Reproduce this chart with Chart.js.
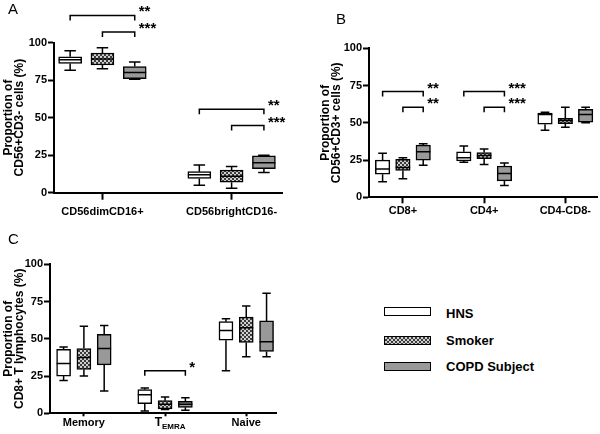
<!DOCTYPE html>
<html>
<head>
<meta charset="utf-8">
<script src="https://cdn.jsdelivr.net/npm/chart.js@4/dist/chart.umd.min.js"></script>
<style>
body { margin: 0; background: #fff; width: 600px; height: 434px; position: relative; overflow: hidden; font-family: "Liberation Sans", Arial, sans-serif; }
canvas { position: absolute; }
.panel { position: absolute; font-size: 15px; line-height: 15px; color: #000; }
.sw { position: absolute; left: 384px; width: 47px; height: 9px; box-sizing: border-box; border: 1.5px solid #000; }
.lg { position: absolute; left: 446px; font-size: 13px; line-height: 13px; font-weight: bold; color: #000; }
</style>
</head>
<body>
<canvas id="chartA" width="300" height="218" style="left:0;top:0"></canvas>
<canvas id="chartB" width="300" height="218" style="left:300px;top:0"></canvas>
<canvas id="chartC" width="300" height="216" style="left:0;top:218px"></canvas>
<div class="panel" style="left:8px;top:1px">A</div>
<div class="panel" style="left:336px;top:11px">B</div>
<div class="panel" style="left:8px;top:231px">C</div>

<div class="sw" id="sw0" style="top:307px;background:#fff"></div>
<div class="sw" id="sw1" style="top:336px"></div>
<div class="sw" id="sw2" style="top:362px;background:#999"></div>
<div class="lg" style="top:307px">HNS</div>
<div class="lg" style="top:334px">Smoker</div>
<div class="lg" style="top:360px">COPD Subject</div>

<script>
Chart.defaults.font.family = '"Liberation Sans", Arial, sans-serif';
Chart.defaults.color = '#000';

const series = ['HNS', 'Smoker', 'COPD Subject'];

// each box is [min, q1, median, q3, max]
// A: CD56+CD3- cells
const catsA = ['CD56dimCD16+', 'CD56brightCD16-'];
const hnsA = [[81.5, 86, 88.5, 90.5, 94.5], [5, 9.5, 12, 14, 18.5]];
const smokerA = [[82.5, 85, 89, 93, 96.5], [3, 7, 11, 15, 17.5]];
const copdA = [[75.5, 76, 80, 84, 87], [13.5, 16, 20, 24.5, 25]];
// significance: [group, from series, to series, bracket height, label]
const sigA = [[0, 0, 2, 118, '**'], [0, 1, 2, 107, '***'], [1, 0, 2, 55.5, '**'], [1, 1, 2, 44.7, '***']];

// B: CD56+CD3+ cells
const catsB = ['CD8+', 'CD4+', 'CD4-CD8-'];
const hnsB = [[10.5, 15.5, 19, 25, 29.5], [23.5, 24.5, 26.5, 30.5, 34.5], [45, 49, 55.5, 56.5, 57]];
const smokerB = [[12.5, 18, 20, 25.5, 26.5], [22, 26, 28, 30, 32.5], [47, 49.5, 51.5, 53, 60.5]];
const copdB = [[21.5, 25, 30.5, 35, 36], [8, 11, 16, 21, 23], [50, 50.5, 55.5, 59, 60.5]];
const sigB = [[0, 0, 2, 71, '**'], [0, 1, 2, 60.5, '**'], [1, 0, 2, 71, '***'], [1, 1, 2, 60.5, '***']];

// C: CD8+ T lymphocytes
const catsC = ['Memory', 'TEMRA', 'Naive'];
const hnsC = [[22, 25, 33.5, 43, 44.5], [1.5, 6.5, 12.5, 16, 17], [28.5, 49, 55.5, 61.5, 63.5]];
const smokerC = [[25, 29.5, 37.5, 43.5, 58.5], [2.5, 3, 6, 8.5, 11], [38, 47.5, 57.5, 64.5, 72]];
const copdC = [[15, 32.5, 43.5, 53, 59], [2, 4, 6, 8, 10.5], [38, 41.5, 48, 62, 80.5]];
const sigC = [[1, 0, 2, 28.6, '*']];

// dotted fill for the smoker boxes
const tile = document.createElement('canvas');
tile.width = 4; tile.height = 4;
const tg = tile.getContext('2d');
tg.fillStyle = '#3c3c3c'; tg.fillRect(0, 0, 4, 4);
tg.fillStyle = '#cfcfcf'; tg.fillRect(0, 0, 2, 2); tg.fillRect(2, 2, 2, 2);
const dots = document.createElement('canvas').getContext('2d').createPattern(tile, 'repeat');
document.getElementById('sw1').style.background = 'url(' + tile.toDataURL() + ')';

const fills = ['#ffffff', dots, '#999999'];

function boxPlugin(sig, lay) {
  return {
    id: 'boxes',
    afterDatasetsDraw(chart) {
      const ctx = chart.ctx, x = chart.scales.x, y = chart.scales.y;
      const py = v => y.getPixelForValue(v);
      ctx.save();
      ctx.strokeStyle = '#000';
      ctx.lineWidth = 1.5;
      chart.data.datasets.forEach((ds, k) => {
        chart.getDatasetMeta(k).data.forEach((bar, i) => {
          const v = ds.data[i].box;
          const cx = bar.x, half = bar.width / 2, cap = bar.width * lay.cap / 2;
          ctx.beginPath();
          ctx.moveTo(cx, py(v[3])); ctx.lineTo(cx, py(v[4]));
          ctx.moveTo(cx - cap, py(v[4])); ctx.lineTo(cx + cap, py(v[4]));
          ctx.moveTo(cx, py(v[1])); ctx.lineTo(cx, py(v[0]));
          ctx.moveTo(cx - cap, py(v[0])); ctx.lineTo(cx + cap, py(v[0]));
          ctx.moveTo(cx - half, py(v[2])); ctx.lineTo(cx + half, py(v[2]));
          ctx.stroke();
        });
      });
      // significance brackets
      sig.forEach(([g, a, b, level, label]) => {
        const x1 = x.getPixelForValue(lay.groups[g] + a - 1);
        const x2 = x.getPixelForValue(lay.groups[g] + b - 1);
        const yy = py(level);
        ctx.beginPath();
        ctx.moveTo(x1, yy + 5); ctx.lineTo(x1, yy); ctx.lineTo(x2, yy); ctx.lineTo(x2, yy + 5);
        ctx.stroke();
        ctx.fillStyle = '#000';
        ctx.font = 'bold 15px "Liberation Sans", Arial, sans-serif';
        ctx.textAlign = 'left';
        ctx.textBaseline = 'alphabetic';
        ctx.fillText(label, x2 + 4, yy + 1);
      });
      // T with EMRA subscript
      if (lay.temra !== undefined) {
        const px = x.getPixelForValue(lay.groups[lay.temra]);
        const mid = x.top + lay.xTick + lay.xPad + 6.6;
        ctx.fillStyle = '#000';
        ctx.textAlign = 'left';
        ctx.textBaseline = 'middle';
        ctx.font = 'bold 12px "Liberation Sans", Arial, sans-serif';
        const wT = ctx.measureText('T').width;
        ctx.font = 'bold 8px "Liberation Sans", Arial, sans-serif';
        const wS = ctx.measureText('EMRA').width;
        const x0 = px + 5 - (wT + wS) / 2;
        ctx.font = 'bold 12px "Liberation Sans", Arial, sans-serif';
        ctx.fillText('T', x0, mid);
        ctx.font = 'bold 8px "Liberation Sans", Arial, sans-serif';
        ctx.fillText('EMRA', x0 + wT, mid + 4);
      }
      ctx.restore();
    }
  };
}

function makeChart(id, cats, stats, sig, lay) {
  const datasets = stats.map((s, k) => ({
    label: series[k],
    data: s.map((v, i) => ({ x: lay.groups[i] + k - 1, y: [v[1], v[3]], box: v })),
    backgroundColor: fills[k],
    borderColor: '#000',
    borderWidth: 1.5,
    borderSkipped: false,
    barThickness: lay.box,
    grouped: false
  }));
  return new Chart(document.getElementById(id), {
    type: 'bar',
    data: { datasets },
    options: {
      responsive: false,
      animation: false,
      layout: { padding: { left: lay.padLeft, top: lay.top, right: lay.padRight, bottom: 0 } },
      plugins: { legend: { display: false }, tooltip: { enabled: false } },
      scales: {
        x: {
          type: 'linear', min: 0, max: lay.xMax, offset: false,
          grid: { display: true, offset: false, drawOnChartArea: false, tickLength: lay.xTick, tickWidth: 2, color: '#000' },
          border: { color: '#000', width: 2 },
          afterBuildTicks: s => { s.ticks = lay.groups.map(v => ({ value: v })); },
          afterFit: s => { s.height = lay.xHeight; },
          ticks: {
            autoSkip: false, maxRotation: 0, padding: lay.xPad, color: '#000',
            font: { size: 11, weight: 'bold' },
            callback: (v, i) => (i === lay.temra ? '' : cats[i])
          }
        },
        y: {
          min: 0, max: 100,
          ticks: { stepSize: 25, padding: 1, color: '#000', font: { size: 11, weight: 'bold' } },
          grid: { drawOnChartArea: false, tickLength: 6, tickWidth: 2, color: '#000' },
          border: { color: '#000', width: 2 },
          afterFit: s => { s.width = lay.yWidth; },
          title: {
            display: true, text: ['Proportion of', lay.yTitle], color: '#000',
            font: { size: 12, weight: 'bold', lineHeight: 0.95 }, padding: { top: 2.6, bottom: 0 }
          }
        }
      }
    },
    plugins: [boxPlugin(sig, lay)]
  });
}

makeChart('chartA', catsA, [hnsA, smokerA, copdA], sigA, {
  groups: [1.5, 5.5], xMax: 7.06, box: 23, cap: 0.5,
  padLeft: 0, padRight: 18, yWidth: 54, top: 42.5, xHeight: 25.3, xTick: 7, xPad: 6,
  yTitle: 'CD56+CD3- cells (%)'
});
makeChart('chartB', catsB, [hnsB, smokerB, copdB], sigB, {
  groups: [1.67, 5.67, 9.67], xMax: 11.23, box: 14.5, cap: 0.6,
  padLeft: 17, padRight: 3, yWidth: 52, top: 48.3, xHeight: 20.7, xTick: 6, xPad: 1,
  yTitle: 'CD56+CD3+ cells (%)'
});
makeChart('chartC', catsC, [hnsC, smokerC, copdC], sigC, {
  groups: [1.67, 5.67, 9.67], xMax: 11.17, box: 14, cap: 0.6,
  padLeft: 0, padRight: 23.3, yWidth: 50, top: 46.3, xHeight: 20.7, xTick: 3, xPad: 0,
  yTitle: 'CD8+ T lymphocytes (%)', temra: 1
});
</script>
</body>
</html>
